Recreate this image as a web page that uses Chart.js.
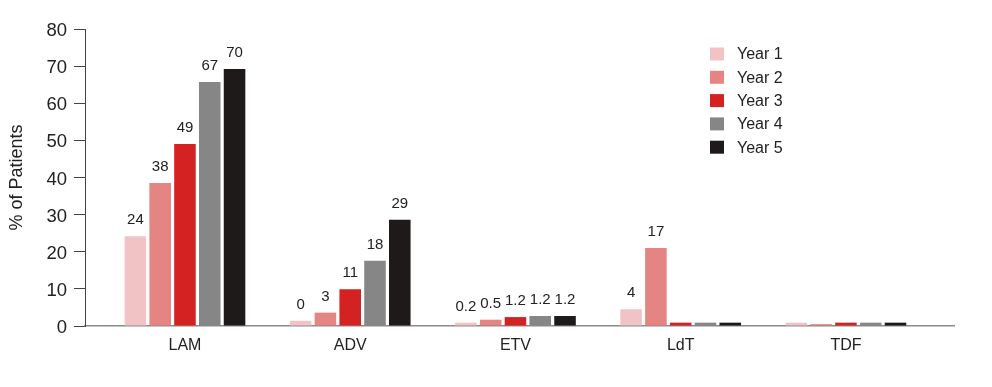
<!DOCTYPE html>
<html>
<head>
<meta charset="utf-8">
<script src="https://cdn.jsdelivr.net/npm/chart.js@4/dist/chart.umd.min.js"></script>
<style>
html,body{margin:0;padding:0;background:#fff;}
canvas{display:block;}
</style>
</head>
<body>
<canvas id="c" width="992" height="387"></canvas>
<script>
const categories = ['LAM', 'ADV', 'ETV', 'LdT', 'TDF'];
const seriesNames = ['Year 1', 'Year 2', 'Year 3', 'Year 4', 'Year 5'];
const year1 = [24.2, 1.4, 0.9, 4.5, 0.9];
const year2 = [38.5, 3.6, 1.7, 21.0, 0.5];
const year3 = [49.0, 9.9, 2.4, 0.9, 0.9];
const year4 = [65.7, 17.6, 2.7, 0.9, 0.9];
const year5 = [69.2, 28.6, 2.7, 0.9, 0.9];
const labels1 = ['24', '0', '0.2', '4', ''];
const labels2 = ['38', '3', '0.5', '17', ''];
const labels3 = ['49', '11', '1.2', '', ''];
const labels4 = ['67', '18', '1.2', '', ''];
const labels5 = ['70', '29', '1.2', '', ''];
const yTicks = [0, 10, 20, 30, 40, 50, 60, 70, 80];
const colors = ['#f2c3c5', '#e48584', '#d42222', '#868686', '#1e1a19'];

const values = [year1, year2, year3, year4, year5];
const barLabels = [labels1, labels2, labels3, labels4, labels5];
const FONT = "'Liberation Sans', Arial, sans-serif";

const datasets = values.map((v, i) => ({
  label: seriesNames[i],
  data: v,
  backgroundColor: colors[i],
  borderWidth: 0,
  categoryPercentage: 0.75,
  barPercentage: 0.87
}));

const valueLabelPlugin = {
  id: 'valueLabels',
  afterDatasetsDraw(chart) {
    const ctx = chart.ctx;
    ctx.save();
    ctx.font = '15px ' + FONT;
    ctx.fillStyle = '#222';
    ctx.textAlign = 'center';
    ctx.textBaseline = 'middle';
    chart.data.datasets.forEach((ds, di) => {
      const meta = chart.getDatasetMeta(di);
      meta.data.forEach((bar, i) => {
        const t = barLabels[di][i];
        if (t) ctx.fillText(t, bar.x, bar.y - 16);
      });
    });
    ctx.restore();
  }
};

const legendPlugin = {
  id: 'customLegend',
  afterDraw(chart) {
    const ctx = chart.ctx;
    ctx.save();
    ctx.font = '16px ' + FONT;
    ctx.textBaseline = 'middle';
    ctx.textAlign = 'left';
    chart.data.datasets.forEach((ds, i) => {
      const cy = 54 + i * 23.3;
      ctx.fillStyle = ds.backgroundColor;
      ctx.fillRect(710, cy - 6.5, 14, 13);
      ctx.fillStyle = '#222';
      ctx.fillText(ds.label, 737, cy + 1);
    });
    ctx.restore();
  }
};

new Chart(document.getElementById('c'), {
  type: 'bar',
  data: { labels: categories, datasets },
  options: {
    responsive: false,
    animation: false,
    layout: { padding: { top: 29, right: 38, bottom: 0, left: 0 } },
    plugins: { legend: { display: false }, tooltip: { enabled: false } },
    scales: {
      x: {
        grid: { display: false, drawTicks: false },
        border: { display: true, color: '#8a8a8a', width: 1.5 },
        ticks: { color: '#222', font: { family: FONT, size: 16 }, padding: 10, maxRotation: 0 },
        afterFit(s) { s.height = 61; },
        afterBuildTicks(s) {
          s._startValue = -0.605;
          s._valueRange = 5.259;
        }
      },
      y: {
        min: 0, max: 80,
        afterBuildTicks(s) { s.ticks = yTicks.map(v => ({ value: v })); },
        grid: { drawOnChartArea: false, drawTicks: true, tickLength: 11, color: '#444' },
        border: { display: true, color: '#444', width: 1 },
        ticks: { color: '#222', font: { family: FONT, size: 18.5 }, padding: 7, labelOffset: 2 },
        title: { display: true, text: '% of Patients', color: '#222', font: { family: FONT, size: 18 }, padding: { top: 6, bottom: 0 } },
        afterFit(s) { s.width = 85; }
      }
    }
  },
  plugins: [valueLabelPlugin, legendPlugin]
});
</script>
</body>
</html>
